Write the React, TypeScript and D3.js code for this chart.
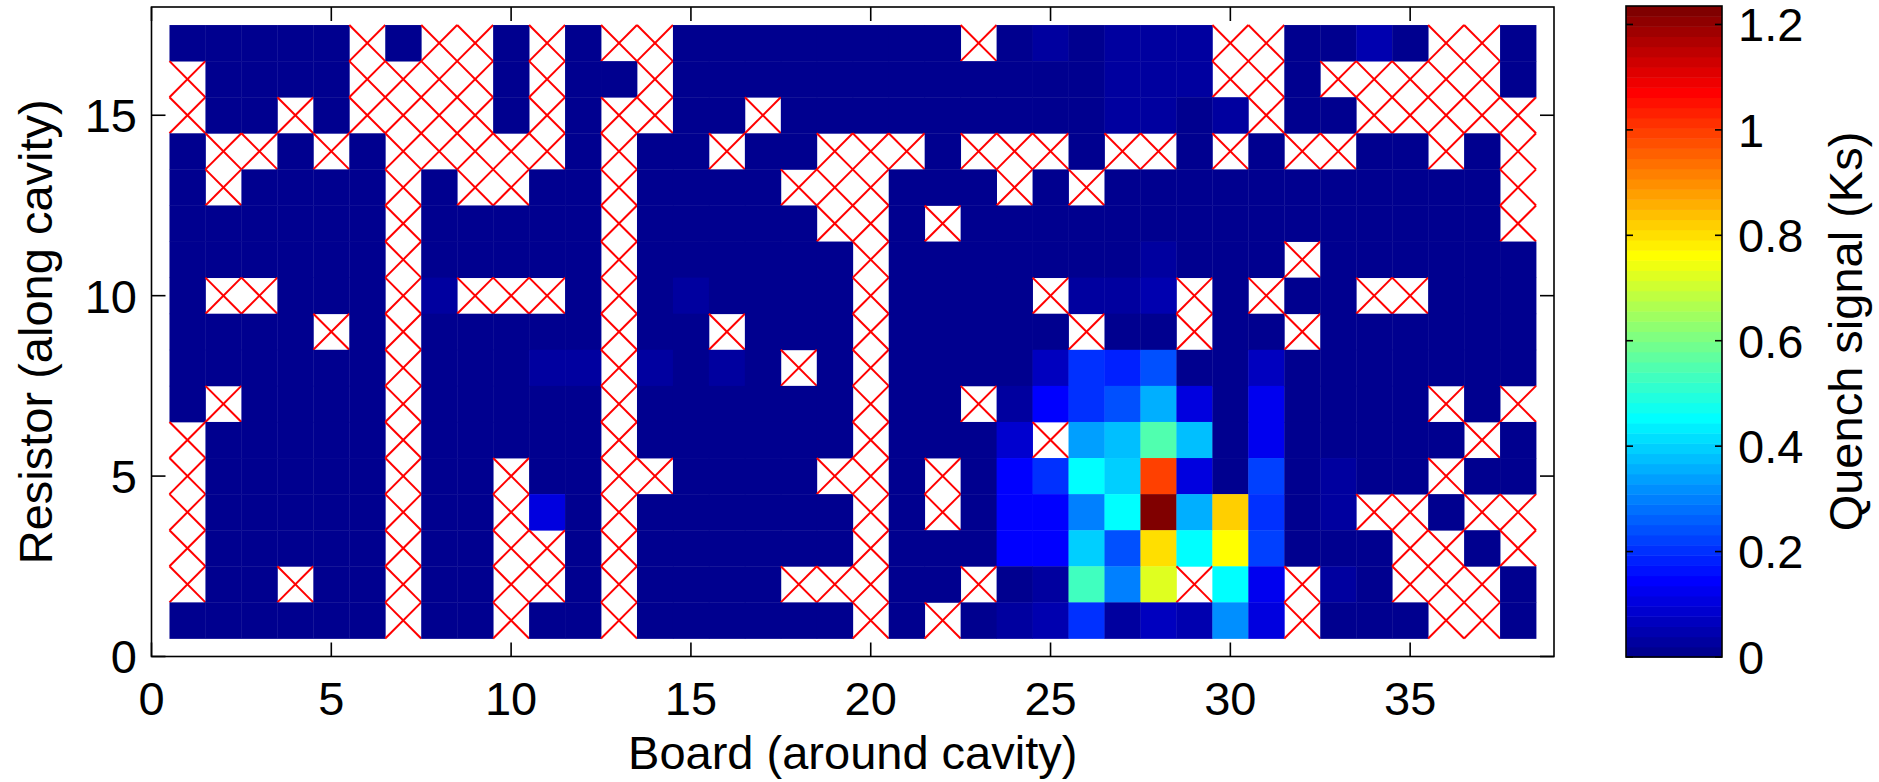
import React from 'react';
import * as d3 from 'd3';

const _ = null;

const boards = [1, 2, 3, 4, 5, 6, 7, 8, 9, 10, 11, 12, 13, 14, 15, 16, 17, 18, 19, 20,
  21, 22, 23, 24, 25, 26, 27, 28, 29, 30, 31, 32, 33, 34, 35, 36, 37, 38];
const resistors = [17, 16, 15, 14, 13, 12, 11, 10, 9, 8, 7, 6, 5, 4, 3, 2, 1];

const xTicks = [0, 5, 10, 15, 20, 25, 30, 35];
const yTicks = [0, 5, 10, 15];
const cbTicks = [0, 0.2, 0.4, 0.6, 0.8, 1, 1.2];
const cbTickLabels = ['0', '0.2', '0.4', '0.6', '0.8', '1', '1.2'];

// quench signal (Ks) per resistor row (17 at top ... 1 at bottom), one value per board; null = no data
const quench: (number | null)[][] = [
  [.01, .01, .01, .01, .01, _, .01, _, _, .01, _, .01, _, _, .01, .01, .01, .01, .01, .01, .01, .01, _, .01, .03, .01, .03, .03, .03, _, _, .01, .01, .05, .01, _, _, .01],
  [_, .01, .01, .01, .01, _, _, _, _, .01, _, .01, .01, _, .01, .01, .01, .01, .01, .01, .01, .01, .01, .01, .01, .01, .03, .03, .03, _, _, .01, _, _, _, _, _, .01],
  [_, .01, .01, _, .01, _, _, _, _, .01, _, .01, _, _, .01, .01, _, .01, .01, .01, .01, .01, .01, .01, .01, .01, .03, .03, .01, .03, _, .01, .01, _, _, _, _, _],
  [.01, _, _, .01, _, .01, _, _, _, _, _, .01, _, .01, .01, _, .01, .01, _, _, _, .01, _, _, _, .01, _, _, .01, _, .01, _, _, .01, .01, _, .01, _],
  [.01, _, .01, .01, .01, .01, _, .01, _, _, .01, .01, _, .01, .01, .01, .01, _, _, _, .01, .01, .01, _, .01, _, .01, .01, .01, .01, .01, .01, .01, .01, .01, .01, .01, _],
  [.01, .01, .01, .01, .01, .01, _, .01, .01, .01, .01, .01, _, .01, .01, .01, .01, .01, _, _, .01, _, .01, .01, .01, .01, .01, .01, .01, .01, .01, .01, .01, .01, .01, .01, .01, _],
  [.01, .01, .01, .01, .01, .01, _, .01, .01, .01, .01, .01, _, .01, .01, .01, .01, .01, .01, _, .01, .01, .01, .01, .01, .01, .01, .03, .01, .01, .01, _, .01, .01, .01, .01, .01, .01],
  [.01, _, _, .01, .01, .01, _, .03, _, _, _, .01, _, .01, .03, .01, .01, .01, .01, _, .01, .01, .01, .01, _, .03, .03, .05, _, .01, _, .01, .01, _, _, .01, .01, .01],
  [.01, .01, .01, .01, _, .01, _, .01, .01, .01, .01, .01, _, .01, .01, _, .01, .01, .01, _, .01, .01, .01, .01, .01, _, .01, .01, _, .01, .01, _, .01, .01, .01, .01, .01, .01],
  [.01, .01, .01, .01, .01, .01, _, .01, .01, .01, .03, .03, _, .03, .01, .03, .01, _, .01, _, .01, .01, .01, .01, .06, .21, .175, .24, .01, .01, .06, .01, .01, .01, .01, .01, .01, .01],
  [.01, _, .01, .01, .01, .01, _, .01, .01, .01, .01, .01, _, .01, .01, .01, .01, .01, .01, _, .01, .01, _, .03, .15, .21, .25, .355, .11, .01, .13, .01, .01, .01, .01, _, .01, _],
  [_, .01, .01, .01, .01, .01, _, .01, .01, .01, .01, .01, _, .01, .01, .01, .01, .01, .01, _, .01, .01, .01, .09, _, .335, .375, .55, .385, .01, .13, .01, .01, .01, .01, .01, _, .01],
  [_, .01, .01, .01, .01, .01, _, .01, .01, _, .01, .01, _, _, .01, .01, .01, .01, _, _, .01, _, .01, .15, .2, .45, .395, .99, .11, .01, .22, .01, .03, .01, .01, _, .01, .01],
  [_, .01, .01, .01, .01, .01, _, .01, .01, _, .11, .01, _, .01, .01, .01, .01, .01, .01, _, .01, _, .01, .15, .15, .3, .45, 1.22, .355, .82, .2, .01, .03, _, _, .01, _, _],
  [_, .01, .01, .01, .01, .01, _, .01, .01, _, _, .01, _, .01, .01, .01, .01, .01, .01, _, .01, .01, .01, .15, .15, .395, .24, .8, .45, .76, .22, .01, .01, .01, _, _, .01, _],
  [_, .01, .01, _, .01, .01, _, .01, .01, _, _, .01, _, .01, .01, .01, .01, _, _, _, .01, .01, _, .01, .03, .53, .3, .72, _, .45, .13, _, .03, .01, _, _, _, .01],
  [.01, .01, .01, .01, .01, .01, _, .01, .01, _, .01, .01, _, .01, .01, .01, .01, .01, .01, _, .01, _, .01, .03, .05, .21, .03, .07, .05, .32, .11, _, .01, .01, .01, _, _, .01],
];

const cMax = 1.235;
const W = 1879;
const H = 782;
const font = '"Liberation Sans", Arial, sans-serif';
const fs = 47;

const jet = (t: number) => {
  const c = (v: number) => Math.round(255 * Math.max(0, Math.min(1, v)));
  return `rgb(${c(1.5 - Math.abs(4 * t - 3))},${c(1.5 - Math.abs(4 * t - 2))},${c(1.5 - Math.abs(4 * t - 1))})`;
};
// MATLAB-like 64-level jet
const colorOf = (v: number) => {
  const k = Math.max(1, Math.min(64, Math.floor((v / cMax) * 64) + 1));
  return jet(k / 64);
};

export default function App() {
  const x = d3.scaleLinear().domain([0, 39]).range([151.5, 1554]);
  const y = d3.scaleLinear().domain([0, 18]).range([656.5, 7]);
  const cb = { x0: 1626, x1: 1722 };
  const cy = d3.scaleLinear().domain([0, cMax]).range([657, 6]);
  const bands = d3.range(64);

  const cells: React.ReactNode[] = [];
  resistors.forEach((r, ri) => {
    boards.forEach((b, bi) => {
      const v = quench[ri][bi];
      const x0 = x(b - 0.5), x1 = x(b + 0.5);
      const y0 = y(r + 0.5), y1 = y(r - 0.5);
      if (v === null) {
        cells.push(
          <g key={`${r}-${b}`}>
            <line x1={x0} y1={y0} x2={x1} y2={y1} stroke="#ff0000" strokeWidth={2} />
            <line x1={x0} y1={y1} x2={x1} y2={y0} stroke="#ff0000" strokeWidth={2} />
          </g>
        );
      } else {
        cells.push(
          <rect key={`${r}-${b}`} x={x0} y={y0} width={x1 - x0 + 0.4} height={y1 - y0 + 0.4}
            fill={colorOf(v)} />
        );
      }
    });
  });

  const top = y(18), bot = y(0), left = x(0), right = x(39);
  const tl = 14;

  return (
    <svg width={W} height={H} style={{ position: 'absolute', left: 0, top: 0, background: '#fff' }}
      fontFamily={font} fontSize={fs}>
      <rect x={0} y={0} width={W} height={H} fill="#fff" />
      <g>{cells}</g>

      {/* axes box */}
      <rect x={left} y={top} width={right - left} height={bot - top} fill="none" stroke="#000" strokeWidth={1.6} />
      {xTicks.map((t) => (
        <g key={`xt${t}`}>
          <line x1={x(t)} x2={x(t)} y1={bot} y2={bot - tl} stroke="#000" strokeWidth={1.6} />
          <line x1={x(t)} x2={x(t)} y1={top} y2={top + tl} stroke="#000" strokeWidth={1.6} />
          <text x={x(t)} y={715} textAnchor="middle">{t}</text>
        </g>
      ))}
      {yTicks.map((t) => (
        <g key={`yt${t}`}>
          <line x1={left} x2={left + tl} y1={y(t)} y2={y(t)} stroke="#000" strokeWidth={1.6} />
          <line x1={right} x2={right - tl} y1={y(t)} y2={y(t)} stroke="#000" strokeWidth={1.6} />
          <text x={137} y={y(t)} textAnchor="end" dy="0.36em">{t}</text>
        </g>
      ))}
      <text x={(left + right) / 2} y={769} textAnchor="middle">Board (around cavity)</text>
      <text transform={`translate(52,${(top + bot) / 2}) rotate(-90)`} textAnchor="middle">
        Resistor (along cavity)
      </text>

      {/* colorbar */}
      {bands.map((k) => (
        <rect key={`cb${k}`} x={cb.x0} width={cb.x1 - cb.x0}
          y={cy(((k + 1) / 64) * cMax)} height={cy((k / 64) * cMax) - cy(((k + 1) / 64) * cMax) + 0.5}
          fill={jet((k + 1) / 64)} />
      ))}
      <rect x={cb.x0} y={cy(cMax)} width={cb.x1 - cb.x0} height={cy(0) - cy(cMax)} fill="none"
        stroke="#000" strokeWidth={1.6} />
      {cbTicks.map((t, i) => (
        <g key={`ct${t}`}>
          <line x1={cb.x0} x2={cb.x0 + 7} y1={cy(t)} y2={cy(t)} stroke="#000" strokeWidth={1.6} />
          <line x1={cb.x1} x2={cb.x1 - 7} y1={cy(t)} y2={cy(t)} stroke="#000" strokeWidth={1.6} />
          <text x={1738} y={cy(t)} dy="0.36em">{cbTickLabels[i]}</text>
        </g>
      ))}
      <text transform={`translate(1862,${(cy(0) + cy(cMax)) / 2}) rotate(-90)`} textAnchor="middle">
        Quench signal (Ks)
      </text>
    </svg>
  );
}
